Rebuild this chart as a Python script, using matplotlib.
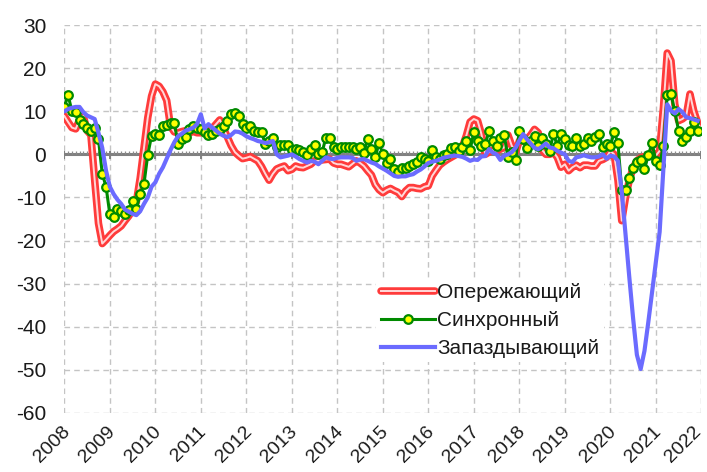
import numpy as np
import matplotlib
matplotlib.use("Agg")
import matplotlib.pyplot as plt
import matplotlib.transforms as mtransforms
from matplotlib.lines import Line2D

plt.rcParams['font.family'] = ['Liberation Sans', 'DejaVu Sans']
plt.rcParams['axes.unicode_minus'] = False

start_year = 2008
years = list(range(2008, 2023))
year_labels = [str(y) for y in years]
y_ticks = [30, 20, 10, 0, -10, -20, -30, -40, -50, -60]

labels = ["Опережающий", "Синхронный", "Запаздывающий"]

# Monthly values starting Jan 2008
leading = [
    8.9, 7.5, 6.2, 5.9, 8.0, 8.9, 5.5, 4.5, -6.0, -16.0, -20.7, -19.8,
    -18.8, -17.9, -17.3, -16.6, -15.4, -14.3, -12.8, -11.0, -5.5, 1.5, 8.5, 13.5,
    16.3, 15.8, 14.5, 12.5, 6.5, 5.2, 5.0, 5.3, 5.5, 5.0, 5.3, 5.0,
    5.0, 5.5, 5.2, 6.0, 7.0, 8.0, 6.0, 4.0, 2.0, 0.5, -0.3, -1.0,
    -0.8, -0.5, -1.0, -1.5, -2.8, -4.5, -6.0, -4.5, -3.4, -3.0, -2.7, -3.8,
    -3.5, -2.7, -3.0, -3.1, -2.7, -2.3, -1.5, -1.5, -1.3, -1.2, -1.1, -2.0,
    -2.3, -2.3, -2.6, -2.9, -2.2, -1.5, -2.0, -2.7, -3.8, -4.8, -7.0, -8.2,
    -8.9, -8.3, -7.9, -8.4, -8.8, -9.8, -8.5, -7.7, -7.7, -7.9, -8.0, -7.5,
    -7.3, -5.0, -3.7, -2.5, -1.8, -1.2, -0.7, -0.2, 0.3, 1.8, 4.3, 7.5,
    8.2, 7.8, 4.7, 0.0, 0.5, 1.0, 0.8, 1.2, 1.6, 4.5, 2.0, 0.5,
    3.1, 3.0, 3.5, 4.5, 5.8, 5.0, 1.0, 0.0, 0.0, 0.5, -0.7, -3.0,
    -2.3, -3.8, -3.0, -2.5, -3.1, -2.5, -2.5, -2.7, -2.7, -1.5, -1.2, -0.7,
    0.8, 0.0, -6.0, -15.4, -10.0, -6.0, -3.1, -1.5, -0.8, -0.5, -0.3, 0.4,
    -0.3, 0.8, 10.9, 23.5, 21.7, 11.6, 7.8, 8.2, 8.9, 14.0, 10.1, 7.4,
    5.8,
]

coincident = [
    11.0, 13.7, 10.0, 9.8, 8.0, 7.0, 6.2, 5.5, 6.0, 3.5, -4.5, -7.5,
    -13.9, -14.5, -12.7, -13.2, -13.9, -13.0, -10.8, -12.7, -9.2, -6.9, -0.1, 4.3,
    4.8, 4.4, 6.6, 6.8, 7.2, 7.2, 2.5, 3.5, 4.1, 5.8, 6.6, 6.2,
    5.8, 5.1, 4.5, 4.7, 5.5, 5.8, 6.6, 7.8, 9.3, 9.7, 8.9, 7.0,
    6.2, 6.6, 5.5, 5.1, 5.1, 2.4, 3.0, 3.8, 1.8, 2.2, 2.2, 2.1,
    1.0, 1.2, 1.0, 0.5, -0.1, 1.3, 2.2, 0.0, 0.6, 3.9, 3.9, 1.6,
    1.3, 1.6, 1.7, 1.7, 1.6, 1.2, 1.6, 0.4, 3.5, 1.3, -0.7, 2.7,
    0.0, -1.9, -1.0, -3.5, -4.2, -3.1, -3.2, -2.7, -2.2, -1.7, -0.7, -1.0,
    -1.5, 1.0, -0.6, -1.0, -0.1, 0.0, 1.4, 1.6, 0.8, 1.7, 3.1, 1.0,
    5.1, 3.0, 2.0, 2.4, 5.3, 3.0, 2.0, 3.9, 4.5, -0.7, 0.5, -1.3,
    5.5, 3.5, 1.4, 3.0, 4.3, 2.0, 3.9, 2.5, 0.8, 4.8, 2.0, 4.8,
    3.5, 2.2, 2.0, 3.8, 2.0, 2.4, 3.9, 3.1, 4.0, 4.7, 1.6, 2.5,
    2.0, 5.1, 2.7, -8.3, -8.2, -5.4, -3.1, -1.7, -1.2, -3.5, -0.2, 2.6,
    -1.5, -2.4, 2.0, 13.7, 14.0, 10.0, 5.5, 3.2, 4.0, 5.5, 7.4, 5.5,
]

lagging = [
    10.0, 10.5, 10.8, 11.0, 11.0, 9.8, 9.0, 8.6, 8.2, 5.0, 1.5, -3.8,
    -7.5, -9.2, -10.5, -11.5, -12.8, -13.3, -13.8, -14.1, -13.2, -11.5, -10.0, -7.5,
    -6.5, -4.5, -3.0, -1.0, 1.0, 2.8, 4.2, 4.8, 5.5, 5.8, 6.2, 7.0,
    9.3, 6.0, 7.0, 6.2, 5.5, 4.8, 4.3, 4.0, 4.5, 5.3, 5.2, 4.8,
    4.2, 3.8, 3.5, 3.1, 2.9, 2.6, 2.8, 3.1, 0.0, -0.7, -0.5, -0.3,
    0.0, -0.5, -1.1, -1.5, -1.9, -1.5, -1.7, -2.3, -1.5, -0.7, -1.0, -1.1,
    -0.8, -0.7, -0.7, -0.7, -0.8, -1.5, -1.2, -1.1, -1.5, -1.9, -2.2, -2.8,
    -3.3, -3.8, -4.4, -5.0, -5.2, -5.1, -5.1, -4.8, -4.6, -4.0, -3.5, -2.8,
    -2.0, -1.7, -1.5, -1.2, -0.8, -0.6, -0.4, -0.3, -0.4, -0.6, -1.0, -1.5,
    -1.2, -1.3, -0.5, -0.4, 1.2, 0.4, 0.0, -1.3, -0.3, 0.0, 0.5, 1.5,
    3.2, 4.7, 3.5, 2.5, 1.5, 1.2, 1.8, 2.5, 1.6, 1.4, 0.8, 0.4,
    0.0, -1.5, -1.8, -0.7, -0.5, -0.2, -0.5, -0.7, -0.7, -0.5, 0.0, -1.0,
    -0.3, -0.5, -1.5, -8.5, -18.5, -28.5, -38.0, -46.5, -49.8, -45.6, -39.0, -32.0,
    -25.0, -18.0, -3.0, 11.6, 10.1, 9.5, 10.5, 9.8, 8.6, 8.4, 8.1, 7.8,
]


def months(n):
    return start_year + np.arange(n) / 12.0


fig = plt.figure(figsize=(7.07, 4.72), dpi=100)
ax = fig.add_axes([0.091, 0.125, 0.901, 0.822])

ax.set_xlim(2008, 2022)
ax.set_ylim(-60, 30)

# grid
for y in y_ticks:
    ax.axhline(y, color='#c4c4c4', lw=1.0, ls=(0, (4, 3)), zorder=0)
for yr in years:
    ax.axvline(yr, color='#c4c4c4', lw=1.0, ls=(0, (4, 3)), zorder=0)

# zero axis with monthly comb ticks
ax.axhline(0, color='#808080', lw=2.2, zorder=1)
mx = start_year + np.arange(0, 14 * 12 + 1) / 12.0
ax.vlines(mx, 0, 0.8, color='#8a8a8a', lw=0.9, zorder=1)
ax.vlines(years, -1.1, 0.8, color='#808080', lw=1.4, zorder=1)

xr = months(len(leading))
xg = months(len(coincident))
xb = months(len(lagging))

red_c = '#ff3b3b'
inner_c = '#fff4f4'
l_red, = ax.plot(xr, leading, color=red_c, lw=5.4, solid_joinstyle='round',
                 solid_capstyle='round', zorder=2)
l_red_in, = ax.plot(xr, leading, color=inner_c, lw=1.4, alpha=0.85, zorder=2.1)
l_green, = ax.plot(xg, coincident, color='#008a00', lw=2.2, marker='o', ms=6.2,
                   mfc='#ffff00', mec='#008a00', mew=1.6, zorder=3)
l_blue, = ax.plot(xb, lagging, color='#6b6bff', lw=3.0, zorder=4)

for s in ax.spines.values():
    s.set_visible(False)

ax.set_yticks(y_ticks)
ax.set_yticklabels([str(v) for v in y_ticks])
ax.set_xticks(years)
ax.set_xticklabels(year_labels, rotation=45, ha='right', va='center',
                   rotation_mode='anchor')
ax.tick_params(axis='y', length=0, pad=13, labelsize=15, labelcolor='#1a1a1a')
ax.tick_params(axis='x', length=0, pad=11, labelsize=14, labelcolor='#1a1a1a')
xlabs = ax.get_xticklabels()
for i, lab in enumerate(xlabs):
    dx = 3 if i < len(xlabs) - 1 else -3
    off = mtransforms.ScaledTranslation(dx / 100, -1 / 100, fig.dpi_scale_trans)
    lab.set_transform(lab.get_transform() + off)

h_red = (Line2D([], [], color=red_c, lw=5.4, solid_capstyle='round'),
         Line2D([], [], color=inner_c, lw=1.4, alpha=0.85))
h_green = Line2D([], [], color='#008a00', lw=2.2, marker='o', ms=6.2,
                 mfc='#ffff00', mec='#008a00', mew=1.6)
h_blue = Line2D([], [], color='#6b6bff', lw=3.0)
leg = ax.legend([h_red, h_green, h_blue], labels, loc='upper left',
                bbox_to_anchor=(0.49, 0.345), frameon=True, fancybox=False,
                edgecolor='none', facecolor='white', framealpha=1.0,
                fontsize=15, handlelength=2.6, handletextpad=0.12,
                labelspacing=0.42, borderpad=0.2, borderaxespad=0)
leg.set_zorder(5)
for t in leg.get_texts():
    t.set_color('#1a1a1a')

fig.savefig('out.png', dpi=100)
